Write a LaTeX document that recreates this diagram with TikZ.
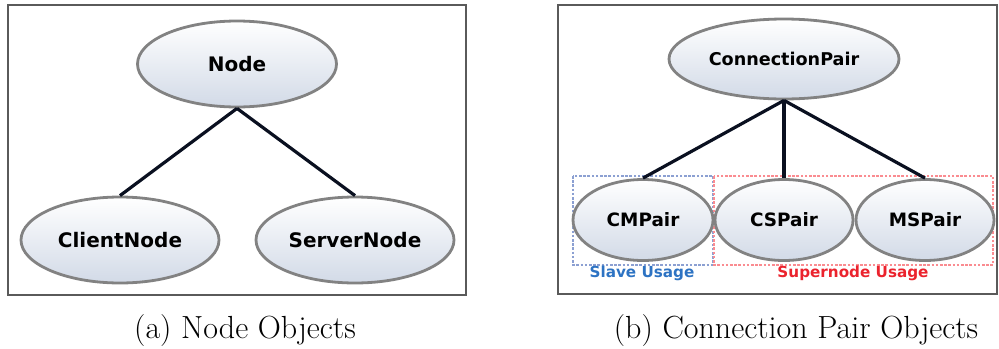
\documentclass[tikz,border=0pt]{standalone}
\usepackage{fontspec}
\newfontfamily\diafont{DejaVu Sans}
\usetikzlibrary{shapes.geometric}
\definecolor{framegray}{RGB}{90,90,90}
\definecolor{ringgray}{RGB}{130,130,130}
\definecolor{fillbottom}{RGB}{210,218,231}
\definecolor{linknavy}{RGB}{10,16,32}
\definecolor{slaveblue}{RGB}{45,115,195}
\definecolor{slaveedge}{RGB}{140,160,210}
\definecolor{superred}{RGB}{235,35,45}
\definecolor{superedge}{RGB}{250,140,145}
\tikzset{
  classnode/.style={ellipse, draw=ringgray, line width=1.4pt, inner sep=0pt,
    top color=white, bottom color=fillbottom, text=black,
    font=\diafont\bfseries\fontsize{10}{12}\selectfont},
  link/.style={draw=linknavy, line width=1.6pt},
  panel/.style={draw=framegray, line width=0.7pt},
  usagebox/.style={line width=0.6pt, dash pattern=on 1.3pt off 0.8pt},
  usagelabel/.style={font=\diafont\bfseries\fontsize{7.6}{9}\selectfont},
  caption/.style={anchor=base, font=\fontsize{16}{19}\selectfont}
}
\begin{document}
\begin{tikzpicture}[x=0.5pt,y=-0.5pt]
\useasboundingbox (0,0) rectangle (999,348);

% panel (a)
\draw[panel] (8,5) rectangle (466,295);
\node[classnode, minimum width=99.5pt, minimum height=43pt] (node) at (237,64) {Node};
\node[classnode, minimum width=99pt, minimum height=43pt] (client) at (120,240) {ClientNode};
\node[classnode, minimum width=99pt, minimum height=43pt] (server) at (355,240) {ServerNode};
\draw[link] (node.south) -- (client.north);
\draw[link] (node.south) -- (server.north);
\node[caption] (capa) at (245,338) {(a) Node Objects};

% panel (b)
\draw[panel] (558,5) rectangle (997,294);
\draw[usagebox, draw=slaveedge] (573,176) rectangle (713,265);
\draw[usagebox, draw=superedge] (714,176) rectangle (993,265);
\node[classnode, minimum width=115pt, minimum height=40pt,
      font=\diafont\bfseries\fontsize{8.8}{11}\selectfont] (pair) at (784,59) {ConnectionPair};
\node[classnode, minimum width=70pt, minimum height=40.5pt,
      font=\diafont\bfseries\fontsize{9.2}{11}\selectfont] (cm) at (643,220) {CMPair};
\node[classnode, minimum width=69pt, minimum height=40.5pt,
      font=\diafont\bfseries\fontsize{9.2}{11}\selectfont] (cs) at (784,220) {CSPair};
\node[classnode, minimum width=69pt, minimum height=40.5pt,
      font=\diafont\bfseries\fontsize{9.2}{11}\selectfont] (ms) at (925,220) {MSPair};
\draw[link] (pair.south) -- (cm.north);
\draw[link] (pair.south) -- (cs.north);
\draw[link] (pair.south) -- (ms.north);
\node[usagelabel, text=slaveblue] (slave) at (642,273) {Slave Usage};
\node[usagelabel, text=superred] (super) at (853,273) {Supernode Usage};
\node[caption] (capb) at (796,338) {(b) Connection Pair Objects};
\end{tikzpicture}
\end{document}
